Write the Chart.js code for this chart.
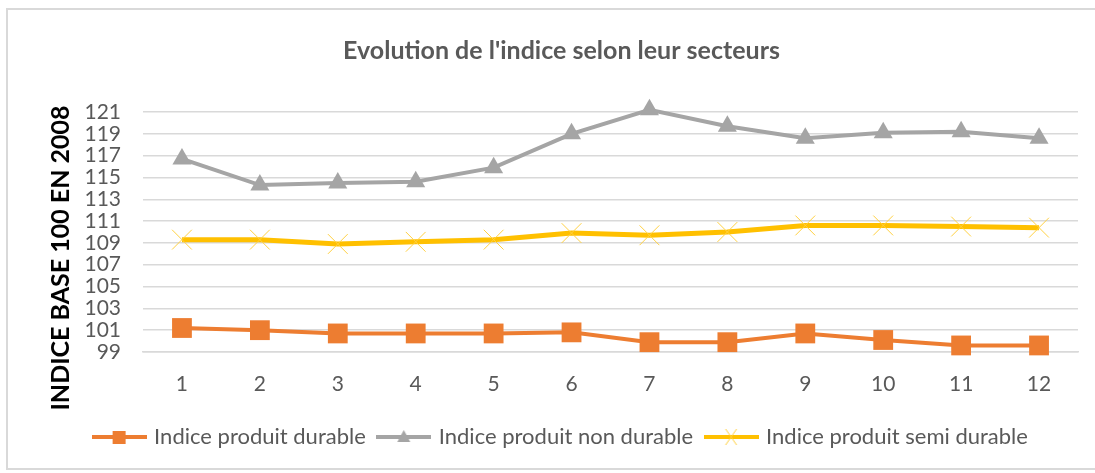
<!DOCTYPE html>
<html>
<head>
<meta charset="utf-8">
<script src="https://cdn.jsdelivr.net/npm/chart.js@4"></script>
<style>
  body { margin: 0; background: #fff; }
  #frame { position: absolute; left: 6px; top: 8px; width: 1100px; height: 462px; border: 2px solid #d9d9d9; box-sizing: border-box; }
  #wrap { position: absolute; left: 0; top: 0; width: 1095px; height: 473px; }
</style>
</head>
<body>
<div id="frame"></div>
<div id="wrap"><canvas id="myChart" width="1095" height="473"></canvas></div>
<script>
// months 1..12
const labels = ["1","2","3","4","5","6","7","8","9","10","11","12"];
const durable    = [101.2, 101.0, 100.7, 100.7, 100.7, 100.8, 99.9, 99.9, 100.7, 100.1, 99.6, 99.6];
const nonDurable = [116.7, 114.3, 114.5, 114.6, 115.9, 119.0, 121.2, 119.7, 118.6, 119.1, 119.2, 118.6];
const semiDurable= [109.3, 109.3, 108.9, 109.1, 109.3, 109.9, 109.7, 110.0, 110.6, 110.6, 110.5, 110.4];
const yTicks = { min: 99, max: 121, step: 2 };
const yTitle = 'INDICE BASE 100 EN 2008';

const FONT = 'Lato, "Liberation Sans", sans-serif';
const TXT = '#595959';

// small canvas drawing line + marker for the legend
function legendIcon(color, kind) {
    const c = document.createElement('canvas');
    c.width = 55; c.height = 20;
    const g = c.getContext('2d');
    g.strokeStyle = color; g.fillStyle = color;
    g.lineWidth = 4;
    g.beginPath(); g.moveTo(0, 10); g.lineTo(55, 10); g.stroke();
    if (kind == 'rect') {
        g.fillRect(21, 4, 13, 13);
    } else if (kind == 'triangle') {
        g.beginPath(); g.moveTo(27.5, 3); g.lineTo(34, 15); g.lineTo(21, 15); g.closePath(); g.fill();
    } else {
        g.lineWidth = 1;
        g.strokeStyle = '#FFD040';
        g.beginPath(); g.moveTo(22, 2); g.lineTo(33, 18); g.moveTo(33, 2); g.lineTo(22, 18); g.stroke();
    }
    return c;
}

// y axis title drawn by hand, Excel puts it a bit lower than the plot centre
const yTitlePlugin = {
    id: 'yTitle',
    afterDraw(chart) {
        const c = chart.ctx;
        c.save();
        c.translate(61, 258);
        c.rotate(-Math.PI / 2);
        c.font = 'bold 25px ' + FONT;
        c.fillStyle = '#000';
        c.textAlign = 'center';
        c.textBaseline = 'middle';
        c.fillText(yTitle, 0, 0);
        c.restore();
    }
};

const data = {
    labels: labels,
    datasets: [{
            label: 'Indice produit durable',
            data: durable,
            borderColor: '#ED7D31',
            backgroundColor: '#ED7D31',
            borderWidth: 4,
            pointStyle: 'rect',
            pointRadius: 14,
            pointBorderWidth: 0,
            clip: 20,
            icon: legendIcon('#ED7D31', 'rect')
        },
        {
            label: 'Indice produit non durable',
            data: nonDurable,
            borderColor: '#A5A5A5',
            backgroundColor: '#A5A5A5',
            borderWidth: 4,
            pointStyle: 'triangle',
            pointRadius: 11,
            pointBorderWidth: 0,
            clip: 20,
            icon: legendIcon('#A5A5A5', 'triangle')
        },
        {
            label: 'Indice produit semi durable',
            data: semiDurable,
            borderColor: '#FFC000',
            backgroundColor: '#FFC000',
            borderWidth: 5,
            pointStyle: 'crossRot',
            pointRadius: 14,
            pointBorderWidth: 1,
            pointBorderColor: '#FFD040',
            clip: 20,
            icon: legendIcon('#FFC000', 'cross')
        }
    ]
};

const config = {
    type: 'line',
    data: data,
    options: {
        responsive: false,
        animation: false,
        events: [],
        layout: { padding: { left: 45, right: 17, top: 36, bottom: 15 } },
        plugins: {
            title: {
                display: true,
                text: "Evolution de l'indice selon leur secteurs",
                color: TXT,
                font: { family: FONT, size: 25, weight: 'bold' },
                padding: { top: 0, bottom: 46 }
            },
            legend: {
                position: 'bottom',
                labels: {
                    color: TXT,
                    font: { family: FONT, size: 22 },
                    usePointStyle: true,
                    pointStyleWidth: 48,
                    boxHeight: 20,
                    padding: 14,
                    generateLabels: function(chart) {
                        return chart.data.datasets.map((ds, i) => ({
                            text: ds.label,
                            pointStyle: ds.icon,
                            fillStyle: ds.borderColor,
                            strokeStyle: ds.borderColor,
                            lineWidth: 0,
                            fontColor: TXT,
                            datasetIndex: i
                        }));
                    }
                }
            },
            tooltip: { enabled: false }
        },
        scales: {
            x: {
                offset: true,
                grid: { display: false },
                border: { color: '#d9d9d9', width: 1.5 },
                ticks: { color: TXT, font: { family: FONT, size: 21 }, padding: 12 },
                afterFit: s => { s.height = 60; }
            },
            y: {
                min: yTicks.min,
                max: yTicks.max,
                grid: { color: '#d9d9d9', lineWidth: 1.5, drawTicks: false },
                border: { display: false },
                ticks: { stepSize: yTicks.step, autoSkip: false, color: TXT, font: { family: FONT, size: 21 }, padding: 22 },
                afterFit: s => { s.width = 98; }
            }
        }
    },
    plugins: [yTitlePlugin]
};

var ctx = document.getElementById('myChart');
var myChart = new Chart(ctx, config);
</script>
</body>
</html>
